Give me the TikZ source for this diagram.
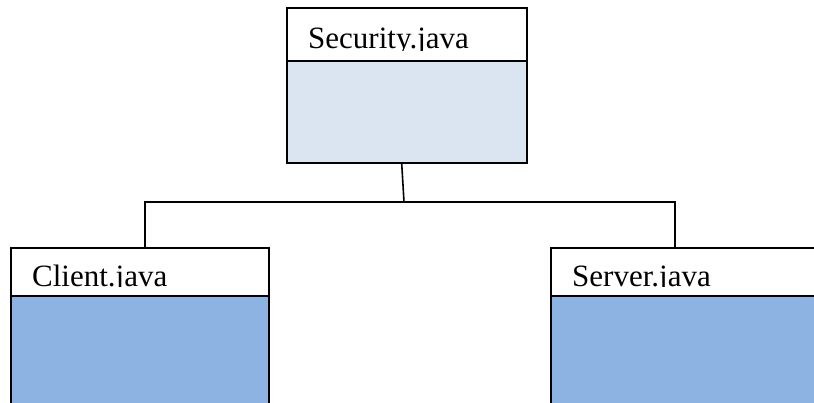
\documentclass[tikz,border=0pt]{standalone}
\usepackage{fontspec}
\setmainfont{Liberation Serif}
\definecolor{paleblue}{HTML}{DBE5F1}
\definecolor{midblue}{HTML}{8DB3E2}
\tikzset{
  frame/.style={draw=black, line width=1.8pt, inner sep=0pt, outer sep=0pt, anchor=north west},
  headbox/.style={frame, fill=white},
  palebody/.style={frame, fill=paleblue},
  darkbody/.style={frame, fill=midblue},
  classname/.style={anchor=base west, inner sep=0pt, font=\fontsize{31}{33}\selectfont},
  link/.style={draw=black, line width=1.6pt}
}
\begin{document}
\begin{tikzpicture}[x=1pt,y=-1pt]
  \clip (0,0) rectangle (814,402);
  \fill[white] (0,0) rectangle (814,402);

  % Security class
  \node[headbox, minimum width=240pt, minimum height=52.7pt] (sechead) at (287.3,8.3) {};
  \node[palebody, minimum width=240pt, minimum height=102.3pt] (secbody) at (287.3,61) {};
  \begin{scope}
    \clip (287.3,8.3) rectangle (527.3,50);
    \node[classname] (sectext) at (308,48.5) {Security.java};
  \end{scope}

  % Client class
  \node[headbox, minimum width=257.7pt, minimum height=48pt] (clihead) at (11,247.7) {};
  \node[darkbody, minimum width=257.7pt, minimum height=140pt] (clibody) at (11,295.7) {};
  \begin{scope}
    \clip (11,247.7) rectangle (268.7,286.3);
    \node[classname] (clitext) at (32,286) {Client.java};
  \end{scope}

  % Server class
  \node[headbox, minimum width=290pt, minimum height=48pt] (srvhead) at (551,247.7) {};
  \node[darkbody, minimum width=290pt, minimum height=140pt] (srvbody) at (551,295.7) {};
  \begin{scope}
    \clip (551,247.7) rectangle (841,286.3);
    \node[classname] (srvtext) at (572,286) {Server.java};
  \end{scope}

  % Inheritance connectors
  \coordinate (secfoot) at (401.7,163.3);
  \coordinate (junction) at (404,202);
  \coordinate (clitop) at (145,247.7);
  \coordinate (srvtop) at (675,247.7);
  \path[link] (secfoot) -- (junction);
  \path[link] (clitop) |- (junction) -| (srvtop);
\end{tikzpicture}
\end{document}
